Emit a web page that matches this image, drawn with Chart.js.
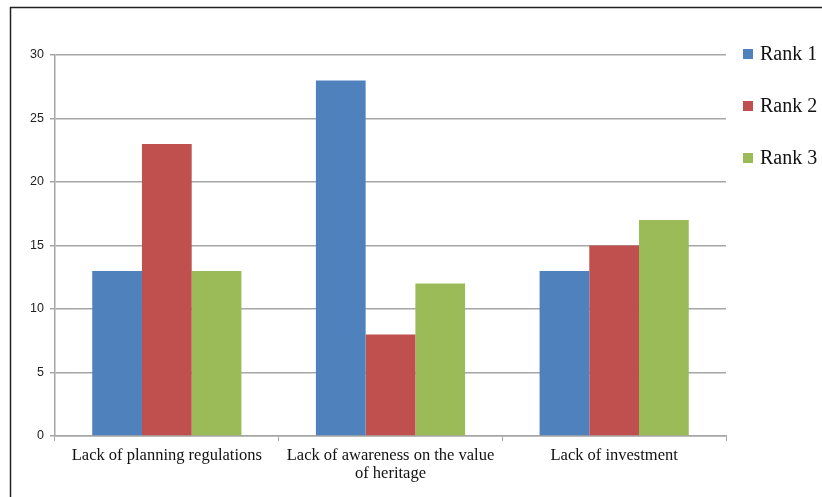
<!DOCTYPE html>
<html>
<head>
<meta charset="utf-8">
<script src="https://cdn.jsdelivr.net/npm/chart.js@4/dist/chart.umd.min.js"></script>
<style>
  html, body { margin: 0; padding: 0; background: #fff; }
  #wrap { position: relative; width: 822px; height: 497px; }
</style>
</head>
<body>
<div id="wrap"><canvas id="c" width="822" height="497"></canvas></div>
<script>
// Obstacles to heritage conservation, counts by rank
const categories = [
  "Lack of planning regulations",
  ["Lack of awareness on the value", "of heritage"],
  "Lack of investment"
];
const rank1 = [13, 28, 13];
const rank2 = [23, 8, 15];
const rank3 = [13, 12, 17];
const seriesNames = ["Rank 1", "Rank 2", "Rank 3"];
const seriesColors = ["#4F81BD", "#C0504D", "#9BBB59"];
const yTicks = [0, 5, 10, 15, 20, 25, 30];

const gridGray = "#a6a6a6";
const serif = "'Liberation Serif', 'Times New Roman', serif";
const sans = "'Liberation Sans', Arial, sans-serif";

// Frame lines along the left and top of the figure
const framePlugin = {
  id: "frame",
  beforeDraw(chart) {
    const ctx = chart.ctx;
    ctx.save();
    ctx.strokeStyle = "#222";
    ctx.lineWidth = 1.5;
    ctx.beginPath();
    ctx.moveTo(10.5, chart.height);
    ctx.lineTo(10.5, 7.5);
    ctx.lineTo(chart.width, 7.5);
    ctx.stroke();
    ctx.restore();
  }
};

// Legend to the right of the plot area
const sideLegend = {
  id: "sideLegend",
  afterDraw(chart) {
    const ctx = chart.ctx;
    const area = chart.chartArea;
    ctx.save();
    ctx.font = "20px " + serif;
    ctx.textBaseline = "alphabetic";
    ctx.textAlign = "left";
    chart.data.datasets.forEach((ds, i) => {
      const baseY = area.top + 5 + i * 52;
      const bx = area.right + 17;
      ctx.fillStyle = ds.backgroundColor;
      ctx.fillRect(bx, baseY - 11, 10, 10);
      ctx.fillStyle = "#111";
      ctx.fillText(ds.label, bx + 17, baseY);
    });
    ctx.restore();
  }
};

new Chart(document.getElementById("c"), {
  type: "bar",
  data: {
    labels: categories,
    datasets: [
      { label: seriesNames[0], data: rank1, backgroundColor: seriesColors[0] },
      { label: seriesNames[1], data: rank2, backgroundColor: seriesColors[1] },
      { label: seriesNames[2], data: rank3, backgroundColor: seriesColors[2] }
    ]
  },
  options: {
    responsive: false,
    animation: false,
    devicePixelRatio: 1,
    layout: { padding: { left: 0, right: 96, top: 55, bottom: 0 } },
    plugins: {
      legend: { display: false },
      tooltip: { enabled: false }
    },
    datasets: {
      bar: { categoryPercentage: 0.667, barPercentage: 1.0, borderWidth: 0 }
    },
    scales: {
      x: {
        grid: {
          offset: true,
          drawOnChartArea: false,
          drawTicks: true,
          tickLength: 5,
          color: gridGray,
          tickColor: gridGray
        },
        border: { color: gridGray, width: 1.5 },
        ticks: {
          font: { family: serif, size: 16.5, lineHeight: 1.13 },
          color: "#111",
          padding: 5,
          maxRotation: 0,
          autoSkip: false
        },
        afterFit(scale) { scale.height = 61; }
      },
      y: {
        min: 0,
        max: 30,
        afterBuildTicks(scale) { scale.ticks = yTicks.map(v => ({ value: v })); },
        grid: {
          color: gridGray,
          lineWidth: 1.5,
          tickLength: 5,
          tickColor: gridGray
        },
        border: { color: gridGray, width: 1.5 },
        ticks: {
          font: { family: sans, size: 12.5 },
          color: "#222",
          padding: 6
        },
        afterFit(scale) { scale.width = 55; }
      }
    }
  },
  plugins: [framePlugin, sideLegend]
});
</script>
</body>
</html>
